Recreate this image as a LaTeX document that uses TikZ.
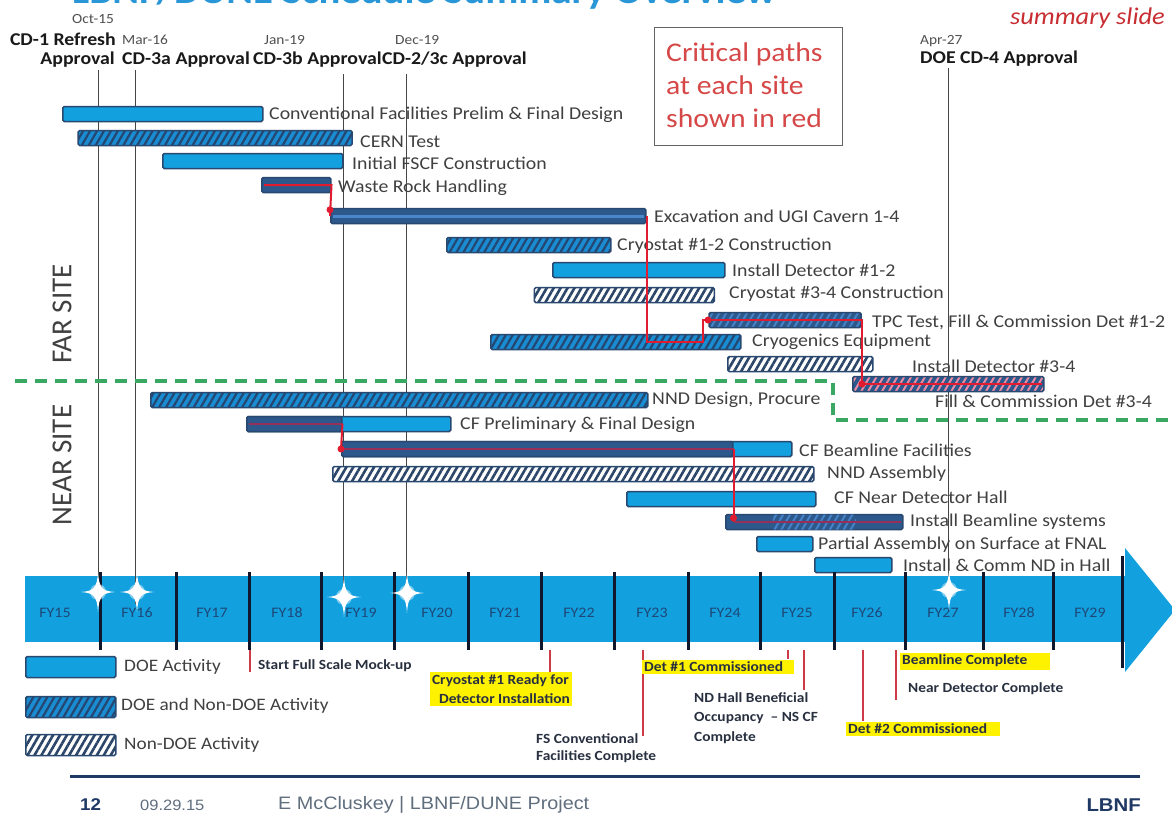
\documentclass[tikz,border=0pt]{standalone}
\usepackage{fontspec}
\setmainfont{Carlito}[FakeStretch=1.1]
\newfontfamily\sitefont{Carlito}
\newfontfamily\arialf{Liberation Sans}[FakeStretch=1.1]
\usetikzlibrary{patterns.meta}
\definecolor{doeblue}{RGB}{18,160,222}
\definecolor{bord}{RGB}{40,72,112}
\definecolor{darkbar}{RGB}{44,88,140}
\definecolor{hatchbg}{RGB}{26,140,210}
\definecolor{hatchln}{RGB}{36,70,112}
\definecolor{nondoeln}{RGB}{44,70,105}
\definecolor{mixlite}{RGB}{70,130,200}
\definecolor{stripe}{RGB}{74,134,204}
\definecolor{pinkln}{RGB}{236,140,165}
\definecolor{critred}{RGB}{226,28,48}
\definecolor{inbar}{RGB}{150,48,90}
\definecolor{txtgray}{RGB}{64,64,64}
\definecolor{dategray}{RGB}{80,80,80}
\definecolor{cdblack}{RGB}{25,25,25}
\definecolor{fyblue}{RGB}{30,72,120}
\definecolor{boxred}{RGB}{214,72,72}
\definecolor{boxgray}{RGB}{100,100,100}
\definecolor{summred}{RGB}{200,45,50}
\definecolor{greendash}{RGB}{56,168,98}
\definecolor{footblue}{RGB}{31,56,100}
\definecolor{footgray}{RGB}{96,110,126}
\definecolor{titleblue}{RGB}{40,150,215}
\definecolor{msline}{RGB}{70,70,70}
\definecolor{msred}{RGB}{205,60,70}
\definecolor{mstext}{RGB}{40,48,64}
\definecolor{divcol}{RGB}{16,22,44}
\begin{document}
\begin{tikzpicture}[x=1pt,y=-1pt,
  barbase/.style={draw=bord, line width=1.5pt, rounded corners=1.5pt, minimum height=15pt, inner sep=0pt, anchor=west},
  doe/.style={barbase, fill=doeblue},
  mixed/.style={barbase, preaction={fill=hatchbg}, pattern={Lines[angle=60,distance=6pt,line width=2.2pt]}, pattern color=hatchln},
  mixeddark/.style={barbase, preaction={fill=darkbar}, pattern={Lines[angle=60,distance=6pt,line width=2pt]}, pattern color=mixlite},
  nondoe/.style={barbase, preaction={fill=white}, pattern={Lines[angle=60,distance=6pt,line width=2.6pt]}, pattern color=nondoeln},
  darkb/.style={barbase, fill=darkbar},
  critpink/.style={barbase, preaction={fill=darkbar}, pattern={Lines[angle=60,distance=6pt,line width=2pt]}, pattern color=pinkln},
  lbl/.style={anchor=west, inner sep=0pt, text=txtgray, font=\fontsize{18}{20}\selectfont},
  datelbl/.style={inner sep=0pt, text=dategray, font=\fontsize{14}{16}\selectfont},
  cdlbl/.style={inner sep=0pt, text=cdblack, font=\bfseries\fontsize{18}{21}\selectfont},
  mline/.style={draw=msline, line width=1pt},
  crit/.style={draw=critred, line width=2pt},
  critin/.style={draw=inbar, line width=1.6pt},
  critdot/.style={fill=critred},
  fylbl/.style={inner sep=0pt, text=fyblue, font=\fontsize{14.5}{16}\selectfont},
  divider/.style={draw=divcol, line width=3pt},
  msl/.style={draw=msred, line width=1.6pt},
  mstxt/.style={inner sep=0pt, text=mstext, font=\bfseries\fontsize{14}{17}\selectfont, align=left},
  hl/.style={mstxt, fill=yellow, inner xsep=2pt, inner ysep=2.5pt},
  legtxt/.style={anchor=west, inner sep=0pt, text=txtgray, font=\fontsize{17.5}{20}\selectfont},
  sitelbl/.style={rotate=90, inner sep=0pt, text=txtgray, font=\sitefont\fontsize{29}{32}\selectfont},
  gdash/.style={draw=greendash, line width=3.5pt, dash pattern=on 12pt off 8pt}
]
\useasboundingbox (0,0) rectangle (1172,815);
\fill[white] (0,0) rectangle (1172,815);

% title (cut by top edge)
\node[anchor=base west, inner sep=0pt, text depth=0pt, text=titleblue, font=\bfseries\fontsize{37}{40}\selectfont] (title) at (72,3) {LBNF/DUNE Schedule Summary Overview};
\node[anchor=base east, inner sep=0pt, text=summred, font=\itshape\fontsize{24}{27}\selectfont] (summ) at (1165,24) {summary slide};

% header milestones
\node[datelbl] (d1) at (93,19) {Oct-15};
\node[cdlbl, anchor=east] (c1a) at (116,39) {CD-1 Refresh};
\node[cdlbl, anchor=east] (c1b) at (115,60) {Approval};
\node[datelbl, anchor=west] (d2) at (122,40) {Mar-16};
\node[cdlbl, anchor=west] (c2) at (122,60) {CD-3a Approval};
\node[datelbl, anchor=west] (d3) at (264,40) {Jan-19};
\node[cdlbl, anchor=west] (c3) at (253,60) {CD-3b Approval};
\node[datelbl, anchor=west] (d4) at (395,40) {Dec-19};
\node[cdlbl, anchor=west] (c4) at (c3.east) {CD-2/3c Approval};
\node[datelbl, anchor=west] (d5) at (920,41) {Apr-27};
\node[cdlbl, anchor=west] (c5) at (920,59) {DOE CD-4 Approval};

% critical paths box
\node[draw=boxgray, line width=1pt, minimum width=188pt, minimum height=118pt, inner sep=0pt] (cpbox) at (748,86) {};
\node[anchor=north west, inner sep=0pt, text=boxred, align=left, font=\fontsize{27}{33}\selectfont] (cptext) at (666,43) {Critical paths\\at each site\\shown in red};

% milestone vertical lines
\coordinate (m1t) at (98,70);   \coordinate (m1b) at (98,604);
\coordinate (m2t) at (135,70);  \coordinate (m2b) at (135,604);
\coordinate (m3t) at (343,74);  \coordinate (m3b) at (343,604);
\coordinate (m4t) at (406,74);  \coordinate (m4b) at (406,604);
\coordinate (m5t) at (948,68);  \coordinate (m5b) at (948,600);
\foreach \a in {1,...,5} {\draw[mline] (m\a t) -- (m\a b);}

% site labels and divider
\node[sitelbl] (far) at (62,314) {FAR SITE};
\node[sitelbl] (near) at (62,465) {NEAR SITE};
\coordinate (g1) at (15,381); \coordinate (g2) at (833,381); \coordinate (g3) at (833,420); \coordinate (g4) at (1168,420);
\draw[gdash] (g1) -- (g2) -- (g3) -- (g4);

% bars
\node[doe, minimum width=200pt] (b1) at (62,114) {};
\node[mixed, minimum width=274pt] (b2) at (77,138) {};
\node[doe, minimum width=180pt] (b3) at (162,161) {};
\node[darkb, minimum width=69pt] (b4) at (261,185) {};
\node[darkb, minimum width=315pt] (b5) at (330,216) {};
\node[mixed, minimum width=164pt] (b6) at (446,245) {};
\node[doe, minimum width=172pt] (b7) at (552,270) {};
\node[nondoe, minimum width=180pt] (b8) at (533,295) {};
\node[mixeddark, minimum width=152pt] (b9) at (708,320) {};
\node[mixed, minimum width=250pt] (b10) at (490,342) {};
\node[nondoe, minimum width=145pt] (b11) at (727,364) {};
\node[critpink, minimum width=191pt] (b12) at (852,384) {};
\node[mixed, minimum width=497pt] (b13) at (150,400) {};
\node[doe, minimum width=204pt] (b14) at (246,424) {};
\node[darkb, minimum width=95pt] (b14d) at (246,424) {};
\node[doe, minimum width=450pt] (b15) at (341,449) {};
\node[darkb, minimum width=391pt] (b15d) at (341,449) {};
\node[nondoe, minimum width=481pt] (b16) at (332,474) {};
\node[doe, minimum width=189pt] (b17) at (626,499) {};
\node[darkb, minimum width=177pt] (b18) at (725,522) {};
\node[mixeddark, minimum width=83pt, draw=none] (b18h) at (772,522) {};
\node[doe, minimum width=56pt] (b19) at (756,544) {};
\node[doe, minimum width=77pt] (b20) at (814,565) {};

% labels
\node[lbl] (l1) at (269,115) {Conventional Facilities Prelim \& Final Design};
\node[lbl] (l2) at (360,142) {CERN Test};
\node[lbl] (l3) at (352,163) {Initial FSCF Construction};
\node[lbl] (l4) at (338,188) {Waste Rock Handling};
\node[lbl] (l5) at (654,216) {Excavation and UGI Cavern 1-4};
\node[lbl] (l6) at (617,246) {Cryostat \#1-2 Construction};
\node[lbl] (l7) at (732,270) {Install Detector \#1-2};
\node[lbl] (l8) at (729,294) {Cryostat \#3-4 Construction};
\node[lbl] (l9) at (872,322) {TPC Test, Fill \& Commission Det \#1-2};
\node[lbl] (l10) at (752,342) {Cryogenics Equipment};
\node[lbl] (l11) at (912,366) {Install Detector \#3-4};
\node[lbl] (l12) at (935,401) {Fill \& Commission Det \#3-4};
\node[lbl] (l13) at (652,400) {NND Design, Procure};
\node[lbl] (l14) at (460,425) {CF Preliminary \& Final Design};
\node[lbl] (l15) at (799,450) {CF Beamline Facilities};
\node[lbl] (l16) at (827,474) {NND Assembly};
\node[lbl] (l17) at (834,497) {CF Near Detector Hall};
\node[lbl] (l18) at (910,522) {Install Beamline systems};
\node[lbl] (l19) at (818,545) {Partial Assembly on Surface at FNAL};
\node[lbl] (l20) at (903,565) {Install \& Comm ND in Hall};

% critical paths
\coordinate (t1) at (703,342);
\draw[draw=stripe, line width=3pt] ([xshift=3pt]b5.west) -- ([xshift=-3pt]b5.east);
\draw[crit] ([xshift=3pt]b4.west) -- (b4.east) -- (b5.west);
\draw[crit] (b5.east) -- (b5.east |- b10.center) -- (t1) -- (t1 |- b9.center) -- (b9.east) -- (b9.east |- b12.center) -- ([xshift=-3pt]b12.east);
\fill[critdot] (b5.north west) ++(0,2) circle (3.5);
\fill[critdot] (b9.west) circle (3.5);
\fill[critdot] (b9.east |- b12.center) circle (3.5);
\draw[critin] ([xshift=3pt]b14d.west) -- (b14d.east);
\draw[crit] (b14d.east) -- (b15d.west);
\draw[critin] (b15d.west) -- (b15d.east);
\draw[crit] (b15d.east) -- (b15d.east |- b18.center);
\draw[critin] (b15d.east |- b18.center) -- ([xshift=-3pt]b18.east);
\fill[critdot] (b15d.west) circle (3.5);
\fill[critdot] (b15d.east |- b18.center) ++(0,-4) circle (3.5);

% timeline arrow
\fill[doeblue] (25,576) rectangle (1125,642);
\fill[doeblue] (1125,548) -- (1175,610) -- (1125,672) -- cycle;
\foreach \x in {100,176,249,321,394,468,541,614,688,760,834,905,983,1053} {\draw[divider] (\x,572) -- (\x,650);}
\draw[divider] (1122,556) -- (1122,668);
\foreach \x/\t in {55/FY15,137/FY16,212/FY17,287/FY18,361/FY19,437/FY20,505/FY21,579/FY22,652/FY23,725/FY24,797/FY25,867/FY26,943/FY27,1019/FY28,1090/FY29} {\node[fylbl] (fy\t) at (\x,613) {\t};}
\foreach \a in {1,...,5} {\draw[mline] (m\a t |- 0,572) -- (m\a b);}
\foreach \sx/\sy in {98/592,137/592,344/597,407/593,949/590} {
  \begin{scope}[shift={(\sx,\sy)}]
    \fill[white, opacity=0.45] (0,0) circle (8);
    \fill[white] (0,-20) .. controls (1,-4) and (4,-1) .. (17,0) .. controls (4,1) and (1,4) .. (0,20) .. controls (-1,4) and (-4,1) .. (-17,0) .. controls (-4,-1) and (-1,-4) .. (0,-20) -- cycle;
  \end{scope}
}

% legend
\node[doe, minimum width=90pt, minimum height=21pt] (lg1) at (25,667) {};
\node[mixed, minimum width=90pt, minimum height=21pt] (lg2) at (25,707) {};
\node[nondoe, minimum width=90pt, minimum height=21pt] (lg3) at (25,745) {};
\node[legtxt] (lt1) at (124,667) {DOE Activity};
\node[legtxt] (lt2) at (121,706) {DOE and Non-DOE Activity};
\node[legtxt] (lt3) at (124,745) {Non-DOE Activity};

% milestones below
\node[mstxt, anchor=west] (ms1) at (258,666) {Start Full Scale Mock-up};
\coordinate (r1a) at (250,650); \coordinate (r1b) at (250,672);
\draw[msl] (r1a) -- (r1b);
\node[hl, anchor=north, font=\bfseries\fontsize{14}{18.5}\selectfont] (ms2) at (501,672) {Cryostat \#1 Ready for\\\hspace*{0.5em}Detector Installation};
\coordinate (r2) at (550,650);
\draw[msl] (r2) -- (r2 |- ms2.north);
\node[mstxt, anchor=north west, font=\bfseries\fontsize{14}{17}\selectfont] (ms3) at (536,733) {FS Conventional\\Facilities Complete};
\coordinate (r3a) at (643,650); \coordinate (r3b) at (643,736);
\draw[msl] (r3a) -- (r3b);
\node[hl, anchor=west] (ms4) at (642,667) {Det \#1 Commissioned\hspace*{0.6em}};
\coordinate (r4) at (788,650);
\draw[msl] (r4) -- (r4 |- ms4.north);
\node[mstxt, anchor=north west, font=\bfseries\fontsize{14}{19.5}\selectfont] (ms5) at (694,692) {ND Hall Beneficial\\Occupancy\ \ -- NS CF\\Complete};
\coordinate (r5a) at (804,650); \coordinate (r5b) at (804,690);
\draw[msl] (r5a) -- (r5b);
\node[hl, anchor=west] (ms6) at (846,729) {Det \#2 Commissioned\hspace*{0.8em}};
\coordinate (r6) at (863,650);
\draw[msl] (r6) -- (r6 |- ms6.north);
\node[hl, anchor=west] (ms7) at (900,661) {Beamline Complete\hspace*{1.5em}};
\coordinate (r7a) at (896,650); \coordinate (r7b) at (896,700);
\draw[msl] (r7a) -- (r7b);
\node[mstxt, anchor=west] (ms8) at (908,689) {Near Detector Complete};

% footer
\coordinate (fl1) at (70,776); \coordinate (fl2) at (1140,776);
\draw[draw=footblue, line width=3pt] (fl1) -- (fl2);
\node[anchor=west, inner sep=0pt, text=footblue, font=\arialf\bfseries\fontsize{17}{19}\selectfont] (f1) at (80,805) {12};
\node[anchor=west, inner sep=0pt, text=footgray, font=\arialf\fontsize{15}{18}\selectfont] (f2) at (140,805) {09.29.15};
\node[anchor=west, inner sep=0pt, text=footgray, font=\arialf\fontsize{18}{20}\selectfont] (f3) at (278,805) {E McCluskey | LBNF/DUNE Project};
\node[anchor=east, inner sep=0pt, text=footblue, font=\arialf\bfseries\fontsize{18.5}{20}\selectfont] (f4) at (1141,805) {LBNF};
\end{tikzpicture}
\end{document}
